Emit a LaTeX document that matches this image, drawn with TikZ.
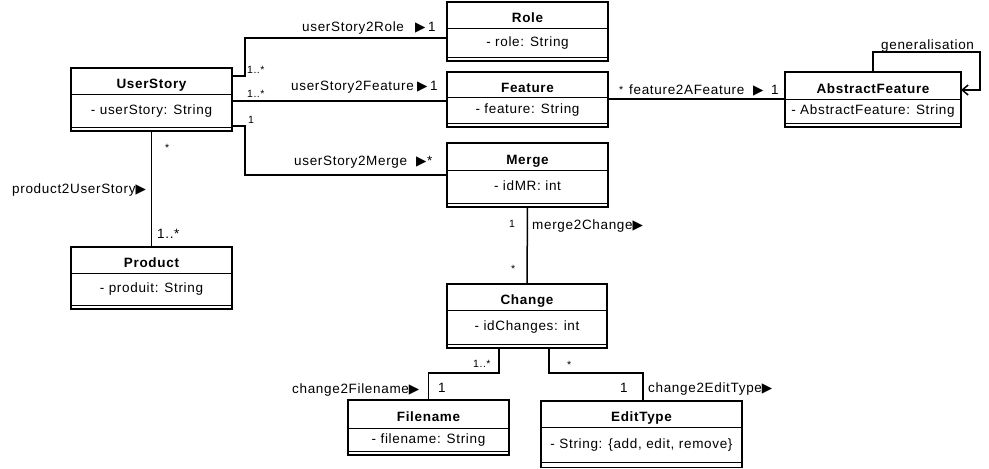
\documentclass[tikz,border=0pt]{standalone}
\usepackage{fontspec}
\setmainfont{Liberation Sans}[LetterSpace=5]
\newfontfamily\symfont{DejaVu Sans}
\usetikzlibrary{arrows.meta}
\newcommand\tri{{\symfont\fontsize{13.5}{15}\selectfont ▶}}
\tikzset{
  classbox/.style={draw, line width=1.6pt, fill=white, inner sep=0pt, outer sep=0pt, rectangle},
  sepline/.style={line width=1pt},
  txt/.style={inner sep=0pt, font=\fontsize{13.5}{16}\selectfont},
  lbl/.style={txt, anchor=base west},
  mult/.style={inner sep=0pt, anchor=base west, font=\fontsize{10.5}{12}\selectfont},
  conn/.style={line width=1.5pt},
}
% name, x, y, w, h1, h2, h3, title, attr
\newcommand\umlclass[9]{%
  \pgfmathsetmacro\umlH{#5+#6+#7}%
  \pgfmathsetmacro\umlA{#5+#6}%
  \pgfmathsetmacro\umlT{#5/2+7.5}%
  \pgfmathsetmacro\umlAT{#5+#6/2+3.5}%
  \node[classbox, minimum width=#4pt, minimum height=\umlH pt, anchor=north west] (#1) at (#2,#3) {};
  \draw[sepline] ([yshift=-#5pt]#1.north west) -- ([yshift=-#5pt]#1.north east);
  \draw[sepline] ([yshift=-\umlA pt]#1.north west) -- ([yshift=-\umlA pt]#1.north east);
  \node[txt, anchor=base] (#1-title) at ([yshift=-\umlT pt]#1.north) {\bfseries #8};
  \node[txt, anchor=base] (#1-attr) at ([yshift=-\umlAT pt]#1.north) {#9};
}
\begin{document}
\begin{tikzpicture}[x=1pt,y=-1pt]
\useasboundingbox (0,0) rectangle (989,469);
\fill[white] (0,0) rectangle (989,469);

\umlclass{us}{71}{68}{161}{26}{33.5}{3.5}{UserStory}{- userStory: String}
\umlclass{role}{447}{2}{161}{26}{29.5}{3.5}{Role}{- role: String}
\umlclass{feat}{447}{72}{161}{25}{26.5}{3.5}{Feature}{- feature: String}
\umlclass{merge}{447}{143}{161}{27}{33}{4}{Merge}{- idMR: int}
\umlclass{change}{447}{284}{160}{26}{34}{4}{Change}{- idChanges: int}
\umlclass{prod}{71}{247}{161}{26}{32}{4}{Product}{- produit: String}
\umlclass{af}{785}{72}{176}{27}{24}{4}{AbstractFeature}{- AbstractFeature: String}
\umlclass{fn}{348}{400}{161}{28}{23}{4}{Filename}{- filename: String}
\umlclass{et}{541}{401}{201}{26}{35}{5.5}{EditType}{- String: \{add, edit, remove\}}

% connectors
\draw[conn] ([yshift=-8pt]us.north east) -- ++(13,0) |- ([yshift=-36pt]role.north west);
\draw[conn] ([yshift=-33pt]us.north east) -- ([yshift=-29pt]feat.north west);
\draw[conn] ([yshift=-58pt]us.north east) -- ++(13,0) |- ([yshift=-32pt]merge.north west);
\draw[conn] ([yshift=-27pt]feat.north east) -- ([yshift=-27pt]af.north west);
\draw[conn, -{Straight Barb[length=6pt,width=10pt]}] (af.north) |- ([xshift=19pt,yshift=20pt]af.north east) |- ([yshift=-18pt]af.north east);
\draw[conn] (us.south) -- (prod.north);
\draw[conn] (merge.south) -- (change.north);
\draw[conn] ([xshift=52pt]change.south west) -- ++(0,25) -| (fn.north);
\draw[conn] ([xshift=102pt]change.south west) -- ++(0,25) -| ([xshift=102pt]et.north west);

% labels
\node[lbl] (l-role) at (302,31) {userStory2Role};
\node[lbl] (t-role) at (415,31) {\tri};
\node[lbl] (m-role2) at (428,31) {1};
\node[mult] (m-role1) at (247,73) {1..*};
\node[lbl] (l-feat) at (291,90) {userStory2Feature};
\node[lbl] (t-feat) at (417,90) {\tri};
\node[lbl] (m-feat2) at (430,90) {1};
\node[mult] (m-feat1) at (247,97) {1..*};
\node[mult] (m-merge1) at (248,123) {1};
\node[lbl] (l-merge) at (294,165) {userStory2Merge};
\node[lbl] (t-merge) at (416,165) {\tri};
\node[lbl] (m-merge2) at (427,165) {*};
\node[mult] (m-af1) at (619,93) {*};
\node[lbl] (l-af) at (629,94) {feature2AFeature};
\node[lbl] (t-af) at (753,94) {\tri};
\node[lbl] (m-af2) at (771,94) {1};
\node[lbl] (l-gen) at (881,49) {generalisation};
\node[lbl] (l-prod) at (12,193) {product2UserStory\tri};
\node[mult] (m-prod1) at (165,151) {*};
\node[lbl] (m-prod2) at (157,238) {1..*};
\node[mult] (m-mc1) at (509,227) {1};
\node[lbl] (l-mc) at (532,229) {merge2Change\tri};
\node[mult] (m-mc2) at (511,272) {*};
\node[mult] (m-fn1) at (473,367) {1..*};
\node[lbl] (m-fn2) at (438,392) {1};
\node[lbl] (l-fn) at (292,393) {change2Filename\tri};
\node[mult] (m-et1) at (567,368) {*};
\node[lbl] (m-et2) at (620,392) {1};
\node[lbl] (l-et) at (648,392) {change2EditType\tri};
\end{tikzpicture}
\end{document}
